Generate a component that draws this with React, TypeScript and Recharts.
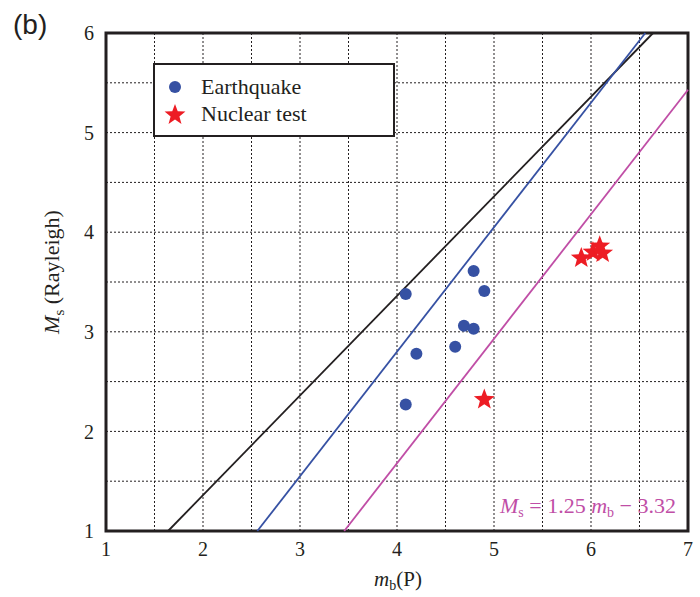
import { ScatterChart, Scatter, XAxis, YAxis, CartesianGrid, ReferenceLine, ReferenceArea } from "recharts";

// earthquakes
const quakeMb = [4.09, 4.2, 4.09, 4.6, 4.69, 4.79, 4.79, 4.9];
const quakeMs = [3.38, 2.78, 2.27, 2.85, 3.06, 3.03, 3.61, 3.41];
// nuclear tests
const testMb = [4.9, 5.9, 6.02, 6.09, 6.12];
const testMs = [2.32, 3.74, 3.8, 3.86, 3.79];

// discriminant lines (end points, mb / Ms)
const blackLine = [{ x: 1.64, y: 1 }, { x: 6.64, y: 6 }];
const blueLine = [{ x: 2.56, y: 1 }, { x: 6.56, y: 6 }];
const magentaLine = [{ x: 3.456, y: 1 }, { x: 7, y: 5.43 }];

const xTicks = [1, 1.5, 2, 2.5, 3, 3.5, 4, 4.5, 5, 5.5, 6, 6.5, 7];
const yTicks = [1, 1.5, 2, 2.5, 3, 3.5, 4, 4.5, 5, 5.5, 6];

const quakes = quakeMb.map((x, i) => ({ x, y: quakeMs[i] }));
const tests = testMb.map((x, i) => ({ x, y: testMs[i] }));

const INK = "#231f20";
const BLUE = "#3651a3";
const RED = "#ed1c24";
const MAGENTA = "#c04ea6";
const SERIF = "'Liberation Serif', 'Times New Roman', serif";

const starPath = (cx: number, cy: number, R: number) => {
  const r = R * 0.42;
  let d = "";
  for (let i = 0; i < 10; i++) {
    const a = -Math.PI / 2 + (i * Math.PI) / 5;
    const rr = i % 2 === 0 ? R : r;
    d += (i === 0 ? "M" : "L") + (cx + rr * Math.cos(a)).toFixed(2) + "," + (cy + rr * Math.sin(a)).toFixed(2);
  }
  return d + "Z";
};

const Star = (p: any) => <path d={starPath(p.cx, p.cy, 11)} fill={RED} />;
const Dot = (p: any) => <circle cx={p.cx} cy={p.cy} r={6} fill={BLUE} />;

const fmt = (v: number) => (Number.isInteger(v) ? String(v) : "");

export default function App() {
  return (
    <div style={{ position: "absolute", left: 0, top: 0, width: 700, height: 597, background: "#fff" }}>
      <ScatterChart width={700} height={597} margin={{ top: 33, right: 12, bottom: 0, left: 0 }}>
        <CartesianGrid strokeDasharray="2 2" stroke={INK} strokeWidth={1} />
        <XAxis
          type="number"
          dataKey="x"
          domain={[1, 7]}
          ticks={xTicks}
          tickFormatter={fmt}
          height={66}
          axisLine={false}
          tickLine={false}
          tickMargin={5}
          tick={{ fill: INK, fontSize: 20, fontFamily: SERIF }}
          label={{
            content: () => (
              <text x={398} y={586} textAnchor="middle" fill={INK} fontSize={21} fontFamily={SERIF}>
                <tspan fontStyle="italic">m</tspan>
                <tspan dy={4} fontSize={14}>b</tspan>
                <tspan dy={-4}>(P)</tspan>
              </text>
            ),
          }}
        />
        <YAxis
          type="number"
          dataKey="y"
          domain={[1, 6]}
          ticks={yTicks}
          tickFormatter={fmt}
          width={106}
          axisLine={false}
          tickLine={false}
          tickMargin={6}
          tick={{ fill: INK, fontSize: 20, fontFamily: SERIF }}
          label={{
            content: () => (
              <text x={59} y={272} transform="rotate(-90, 59, 272)" textAnchor="middle" fill={INK} fontSize={22} fontFamily={SERIF}>
                <tspan fontStyle="italic">M</tspan>
                <tspan dy={5} fontSize={15}>s</tspan>
                <tspan dy={-5}> (Rayleigh)</tspan>
              </text>
            ),
          }}
        />
        <ReferenceLine segment={blackLine} stroke={INK} strokeWidth={1.8} />
        <ReferenceLine segment={blueLine} stroke={BLUE} strokeWidth={1.8} />
        <ReferenceLine segment={magentaLine} stroke={MAGENTA} strokeWidth={1.8} />
        <Scatter data={quakes} shape={Dot} isAnimationActive={false} />
        <Scatter data={tests} shape={Star} isAnimationActive={false} />
        <ReferenceArea x1={1} x2={7} y1={1} y2={6} fill="none" stroke={INK} strokeWidth={3} />
      </ScatterChart>

      <svg width={700} height={597} style={{ position: "absolute", left: 0, top: 0, pointerEvents: "none" }}>
        <text x={13} y={34} fontSize={28} fontFamily="'Liberation Sans', Arial, sans-serif" fill={INK}>(b)</text>

        <rect x={154} y={64} width={240} height={72} fill="#fff" stroke={INK} strokeWidth={2} />
        <circle cx={175} cy={87} r={6} fill={BLUE} />
        <text x={201} y={94} fontSize={22} fontFamily={SERIF} fill={INK}>Earthquake</text>
        <path d={starPath(175, 115, 11)} fill={RED} />
        <text x={201} y={121} fontSize={22} fontFamily={SERIF} fill={INK}>Nuclear test</text>

        <text x={676} y={513} textAnchor="end" fontSize={22} fontFamily={SERIF} fill={MAGENTA}>
          <tspan fontStyle="italic">M</tspan>
          <tspan dy={4} fontSize={14}>s</tspan>
          <tspan dy={-4}> = 1.25 </tspan>
          <tspan fontStyle="italic">m</tspan>
          <tspan dy={4} fontSize={14}>b</tspan>
          <tspan dy={-4}> − 3.32</tspan>
        </text>
      </svg>
    </div>
  );
}
